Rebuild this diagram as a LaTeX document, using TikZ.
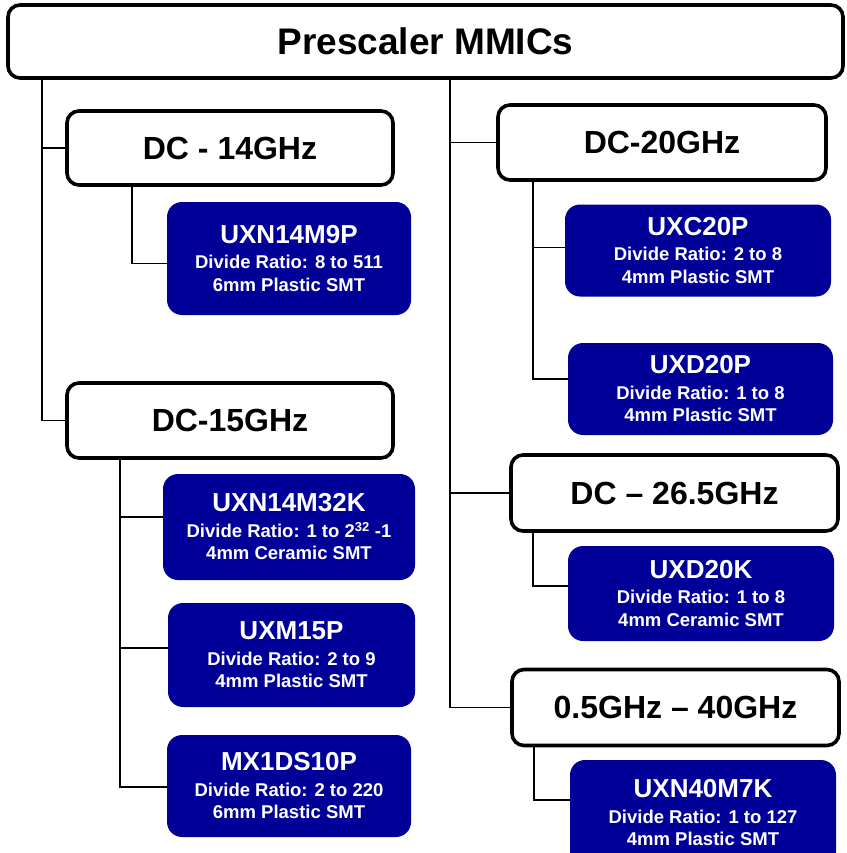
\documentclass[tikz,border=0pt]{standalone}
\usepackage{fontspec}
\setmainfont{Liberation Sans}
\definecolor{chipblue}{RGB}{0,0,153}
\newcommand{\chiptext}[3]{{\fontsize{26}{30}\selectfont #1}\\[3pt]#2\\#3}
\begin{document}
\begin{tikzpicture}[x=1pt,y=-1pt,
  hdr/.style={draw=black, line width=3.6pt, rounded corners=12pt, fill=white,
    inner sep=0pt, outer sep=0pt, font=\bfseries\fontsize{32}{36}\selectfont},
  chip/.style={fill=chipblue, rounded corners=15pt, text=white, align=center,
    inner sep=0pt, outer sep=0pt, font=\bfseries\fontsize{18.5}{22.5}\selectfont},
  link/.style={draw=black, line width=1.5pt}]
\useasboundingbox (0,0) rectangle (846,853);
\begin{scope}
\clip (0,0) rectangle (846,853);
% headers
\node[hdr, minimum width=835pt, minimum height=73pt, font=\bfseries\fontsize{37}{40}\selectfont] (top) at (425.5,41.5) {Prescaler MMICs};
\node[hdr, minimum width=326pt, minimum height=74pt] (dc14) at (230,148) {DC - 14GHz};
\node[hdr, minimum width=326pt, minimum height=75pt] (dc15) at (230,420.5) {DC-15GHz};
\node[hdr, minimum width=328pt, minimum height=75pt] (dc20) at (662,142.5) {DC-20GHz};
\node[hdr, minimum width=327pt, minimum height=76pt] (dc265) at (674.5,493) {DC -- 26.5GHz};
\node[hdr, minimum width=327pt, minimum height=76pt] (dc40) at (675.5,707.5) {0.5GHz -- 40GHz};
% chips
\node[chip, minimum width=244pt, minimum height=113pt] (u9) at (289,258.5) {\chiptext{UXN14M9P}{Divide Ratio: 8 to 511}{6mm Plastic SMT}};
\node[chip, minimum width=252pt, minimum height=106pt] (u32) at (289,527) {\chiptext{UXN14M32K}{Divide Ratio: 1 to 2\textsuperscript{32} -1}{4mm Ceramic SMT}};
\node[chip, minimum width=247pt, minimum height=104pt] (u15) at (291.5,655) {\chiptext{UXM15P}{Divide Ratio: 2 to 9}{4mm Plastic SMT}};
\node[chip, minimum width=244pt, minimum height=102pt] (mx) at (289,786) {\chiptext{MX1DS10P}{Divide Ratio: 2 to 220}{6mm Plastic SMT}};
\node[chip, minimum width=266pt, minimum height=92pt] (uc20) at (698,250.5) {\chiptext{UXC20P}{Divide Ratio: 2 to 8}{4mm Plastic SMT}};
\node[chip, minimum width=265pt, minimum height=92pt] (ud20) at (700.5,389) {\chiptext{UXD20P}{Divide Ratio: 1 to 8}{4mm Plastic SMT}};
\node[chip, minimum width=266pt, minimum height=95pt] (ud20k) at (701,593.5) {\chiptext{UXD20K}{Divide Ratio: 1 to 8}{4mm Ceramic SMT}};
\node[chip, minimum width=266pt, minimum height=106pt] (u40) at (703,813) {\chiptext{UXN40M7K}{Divide Ratio: 1 to 127}{4mm Plastic SMT}};
% connectors
\draw[link] ([xshift=34pt]top.south west) |- (dc14.west);
\draw[link] ([xshift=34pt]top.south west) |- (dc15.west);
\draw[link] ([xshift=442pt]top.south west) |- (dc20.west);
\draw[link] ([xshift=442pt]top.south west) |- (dc265.west);
\draw[link] ([xshift=442pt]top.south west) |- (dc40.west);
\draw[link] ([xshift=65pt]dc14.south west) |- ([yshift=-5pt]u9.west);
\draw[link] ([xshift=53pt]dc15.south west) |- ([yshift=10pt]u32.west);
\draw[link] ([xshift=53pt]dc15.south west) |- ([yshift=7pt]u15.west);
\draw[link] ([xshift=53pt]dc15.south west) |- ([yshift=-1pt]mx.west);
\draw[link] ([xshift=35pt]dc20.south west) |- ([yshift=3pt]uc20.west);
\draw[link] ([xshift=35pt]dc20.south west) |- ([yshift=10pt]ud20.west);
\draw[link] ([xshift=22pt]dc265.south west) |- ([yshift=7.5pt]ud20k.west);
\draw[link] ([xshift=22pt]dc40.south west) |- ([yshift=13pt]u40.west);
\end{scope}
\end{tikzpicture}
\end{document}
